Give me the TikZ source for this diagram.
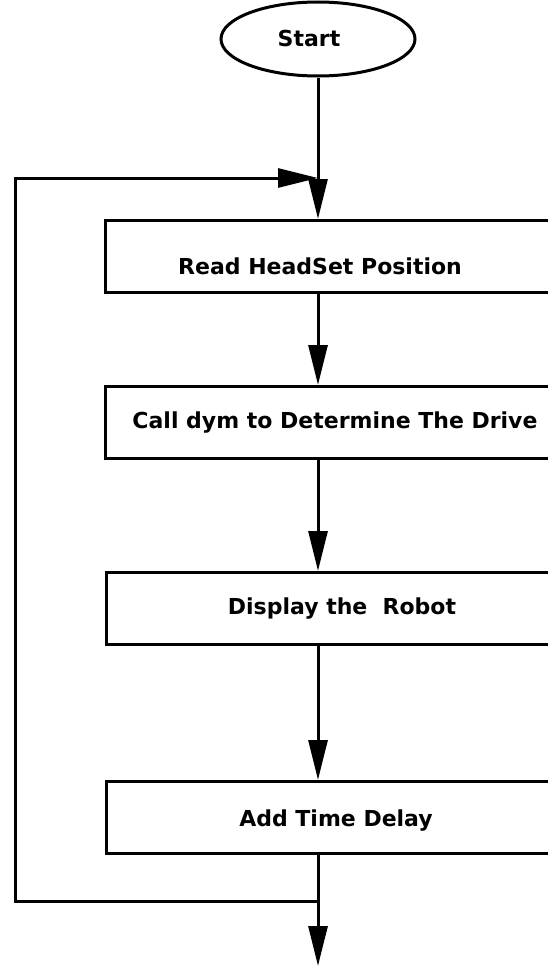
\documentclass[tikz,border=0pt]{standalone}
\usepackage{fontspec}
\setmainfont{DejaVu Sans}
\usetikzlibrary{arrows.meta,shapes.geometric}

\tikzset{
  flow/.style={line width=3pt},
  tip/.style={-{Triangle[length=40pt,width=19pt]}},
  stepbox/.style={draw,line width=3pt,rectangle,anchor=north west,minimum height=72pt,minimum width=480pt},
  label/.style={font=\bfseries\fontsize{22}{22}\selectfont,inner sep=0pt}
}

\begin{document}
\begin{tikzpicture}[x=1pt,y=-1pt]
  \useasboundingbox (0,0) rectangle (548,966);
  \begin{scope}
    \clip (0,0) rectangle (548,966);

    % start terminal
    \node[draw,ellipse,line width=3pt,minimum width=194pt,minimum height=74pt] (start) at (318,39) {};
    \node[label] (starttxt) at (309,38) {Start};

    % process boxes (they run off the right edge)
    \node[stepbox] (read)  at (104,219) {};
    \node[stepbox] (call)  at (104,385) {};
    \node[stepbox] (disp)  at (105,571) {};
    \node[stepbox] (delay) at (105,780) {};

    \node[label] (readtxt)  at (320,266) {Read HeadSet Position};
    \node[label] (calltxt)  at (335,423) {Call dym to Determine The Drive};
    \node[label] (disptxt)  at (342,609) {Display the~ Robot};
    \node[label] (delaytxt) at (336,821) {Add Time Delay};

    % loop-back junctions
    \coordinate (looptop) at (318,178);
    \coordinate (loopbot) at (318,901);
    \coordinate (exit) at (318,966);

    % main flow
    \draw[flow] (start.south) -- (looptop);
    \draw[flow,tip] (looptop) -- (read.north -| looptop);
    \draw[flow,tip] (read.south -| looptop) -- (call.north -| looptop);
    \draw[flow,tip] (call.south -| looptop) -- (disp.north -| looptop);
    \draw[flow,tip] (disp.south -| looptop) -- (delay.north -| looptop);
    \draw[flow,tip] (delay.south -| looptop) -- (exit);

    % loop back
    \draw[flow,tip] (loopbot) -- (15,901) -- (15,178) -- (looptop);
  \end{scope}
\end{tikzpicture}
\end{document}
